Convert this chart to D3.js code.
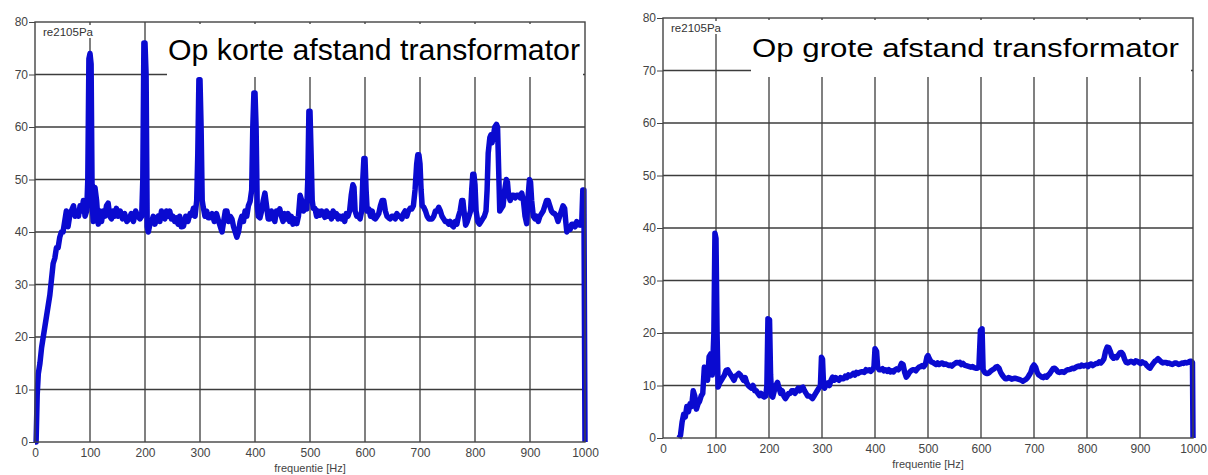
<!DOCTYPE html>
<html>
<head>
<meta charset="utf-8">
<script src="https://cdn.jsdelivr.net/npm/d3@7"></script>
<style>
  body { margin: 0; background: #fff; }
  svg { display: block; }
</style>
</head>
<body>
<div id="chart"></div>
<script>
// tick values shared by both panels
const xTicks = [0, 100, 200, 300, 400, 500, 600, 700, 800, 900, 1000];
const yTicks = [0, 10, 20, 30, 40, 50, 60, 70, 80];

// "Op korte afstand transformator" (dB re 2e-5 Pa)
const nearFreq = [0,2,4,6,9,12,15,18,21,24,27,30,33,36,39,42,45,48,51,54,57,60,63,66,70,73,76,79,82,85,88,91,94,96,98,100,102,104,106,109,112,115,118,121,124,127,130,133,136,139,142,145,148,151,155,159,163,167,171,175,179,183,187,191,194,196,198,200,202,204,206,209,212,215,218,221,224,227,230,233,236,239,242,245,248,251,254,257,260,263,266,270,274,278,282,285,288,291,294,296,298,300,302,304,306,309,312,315,318,322,326,330,334,337,340,343,346,349,352,355,358,361,364,367,370,373,376,379,382,385,388,391,394,396,398,400,402,404,406,409,412,415,418,421,424,427,430,433,436,439,442,445,448,451,454,457,460,463,466,469,472,476,479,482,485,488,491,494,496,498,500,502,504,506,509,512,515,518,521,524,527,530,533,536,539,542,545,548,551,554,557,560,563,566,569,572,575,578,580,582,585,588,591,594,596,598,600,602,604,607,610,613,616,619,622,625,628,631,634,637,640,643,646,649,652,655,658,661,664,667,670,673,676,679,682,685,688,691,694,696,698,700,702,704,707,710,713,716,719,722,725,728,731,734,737,740,743,746,749,752,755,758,761,764,767,770,773,776,778,780,783,786,789,792,794,796,798,800,802,805,808,811,814,817,820,822,824,827,829,831,833,836,839,841,843,845,848,851,854,857,859,861,864,867,870,873,876,879,882,885,888,891,894,896,899,901,903,906,909,912,915,918,921,924,927,930,933,936,939,942,945,948,951,954,957,960,963,965,967,970,973,976,979,982,985,988,991,994,996,998,1000];
const nearLevel = [0,0,9,13,15,18,20,22,24,26,28,31,34,35,37,37,39,40,40,42,44,41,43,44,45,43,44,43,45,44,46,43,44,50,73,74,72,45,42,48.5,46,41.5,44,42,44,43,45,45.5,43,42.5,44,43,44.5,43,44,42.5,43.5,42,42.5,43.5,42,44,43,42.5,43,50,76,76,70,41,40,41.5,42,43,41.5,42.5,43,42,44,43,42.5,44,43,44,42.5,43,42,42.7,41.5,43,41,41.1,43,42,43.5,43.2,44.5,43,46,55,69,69,60,46,44.7,43,44,42.7,42.7,43.5,42,43.5,42,41,40,42,44,44,42,43,42.5,41,40,39,40,42,43,42,44,43,45,45.8,48,60,66.5,66.5,60,45,43,42.7,44,46,47.4,45,42.5,42.5,44,43,42,44,43.5,44.4,43,42,43.5,42.5,43.5,42,43,41.5,42.5,41.6,43,47,46,44,44.4,44.4,50,63,63,55,46,44.5,44.5,43,44,43.2,44,43.6,42.8,44,43,43.5,42.5,44,43,43.5,42.5,43,42.5,43,42,43.5,43,44,47,49,48.5,44,43,43,42.5,44,50,54,54,48,44,44.4,43,44,42.7,42.5,43,43.5,45,46,46,44,43,42.7,42.5,43,43,42.5,43.5,43,43,42.5,43.5,44,43,44,44.5,44.4,45,48,53,54.7,54.7,53,48,45,44.7,44,43,42.5,42.5,42.5,43,44,44,44.7,44,43,42.5,42,42,41.5,42,41.3,41,42,41.5,43,44,46,46,44,41.3,42,43,44,48,51,51,49,44,42,41.5,42,42.5,43,44,48,55,58,58.5,57,58,60,60.5,60,52,44,44.5,45,48,50,49.5,47,46,47,47,46.5,47,47,46.5,47.4,46,43,41.6,46,50,49.5,46,43,42.5,43,42,43,43.5,44,45,46,46,45,44,43.6,43.5,43,42,43,44,45,44.5,42,40,41,40.5,41.5,41.5,41,42,41.5,41.3,41.5,48,48,0];

// "Op grote afstand transformator"
const farFreq = [30,33,36,39,42,45,48,51,54,57,60,63,66,69,72,75,78,81,84,87,90,93,96,98,100,102,104,107,110,113,116,119,122,125,128,131,134,137,140,143,146,149,152,155,158,161,164,167,170,173,176,179,182,185,188,191,194,196,198,201,203,205,207,210,213,216,219,222,225,228,231,234,237,240,243,246,249,252,255,258,261,264,267,270,273,276,279,282,285,288,291,294,297,299,301,303,305,308,311,314,317,320,323,326,329,332,335,338,341,344,347,350,353,356,359,362,365,368,371,374,377,380,383,386,389,392,395,398,400,403,405,408,411,414,417,420,423,426,429,432,435,438,441,444,447,450,453,456,459,462,465,468,471,474,477,480,483,486,489,492,495,498,500,503,506,509,512,515,518,521,524,527,530,533,536,539,542,545,548,551,554,557,560,563,566,569,572,575,578,581,584,587,590,593,596,599,602,604,607,610,613,616,619,622,625,628,631,634,637,640,643,646,649,652,655,658,661,664,667,670,673,676,679,682,685,688,691,694,697,700,703,706,709,712,715,718,721,724,727,730,733,736,739,742,745,748,751,754,757,760,763,766,769,772,775,778,781,784,787,790,793,796,799,802,805,808,811,814,817,820,823,826,829,832,835,838,841,844,847,850,853,856,859,862,865,868,871,874,877,880,883,886,889,892,895,898,901,904,907,910,913,916,919,922,925,928,931,934,937,940,943,946,949,952,955,958,961,964,967,970,973,976,979,982,985,988,991,994,997,999,1000];
const farLevel = [0,0.5,3,4.5,4,6,5,6.5,6,9,8,5.5,6.5,7,8,8.5,13.5,12,11,15.5,16,12,20,39,38,20,9.7,10.5,11,11.5,12,12.9,13,12.5,12,11.5,11,11.8,12,12.3,12,11.5,11,11.5,10.5,10,9.7,9.5,10,9,9,8.5,8.1,8.5,8,7.8,8,10,22.7,22.5,12,8,7.8,9,10,10.6,9.5,8.5,9,8,7.5,8,8.5,8.5,9,9,8.5,9,9.5,9,9.5,9.7,9,8.5,8,8,7.8,7.5,8,8.5,9,9.5,10,15.4,15,10,9.5,10.3,10.5,10,11,11.6,11,11.5,11.2,11,11.5,11.3,11.3,11.8,11.5,12,11.8,12,12.3,12,12.5,12.3,12.5,12.6,12.6,12.5,13,12.8,13,12.7,13,13.5,17,16.5,13.5,13,13,13.2,12.8,13,12.7,13,12.6,12.8,12.6,13,13.2,13,13.5,14.2,14,12.5,11.6,12,12.5,12.8,13,13,12.8,13.2,13.5,13.6,13.8,13.6,14,15.4,15.7,15,14.5,14.4,14.2,14,14.3,14,14.2,14.3,14,14.1,14,13.8,13.9,13.7,14,14.2,14.4,14.3,14.4,14,14.2,13.9,13.8,13.7,13.6,13.5,13.6,13.4,13.3,13.3,13.5,20.5,20.8,13,12.5,12.3,12.3,12.5,12.8,13,13.2,13.5,13.6,13.3,12.5,12,11.6,11.3,11.3,11.5,11.4,11.2,11.3,11.4,11.3,11.2,11.1,11,10.8,11,11.2,11.5,12,12.5,13.5,13.9,13.5,12.5,12,11.8,11.6,11.5,11.8,11.6,12,12.3,12.8,13.2,13.3,13,12.6,12.5,12.6,12.6,12.5,12.8,13,13,13.1,13.3,13.2,13.4,13.6,13.7,13.6,13.9,13.7,13.8,13.9,13.6,14,14.1,13.8,14,14.2,14.2,14.5,14.3,14.6,15.1,16.5,17.3,17.2,16.5,15.5,15.2,15.5,15.3,15.8,16.2,16.3,15.9,15,14.4,14.3,14.5,14.6,14.5,14.3,14.7,14.6,14.4,14.2,14.5,14.3,14.2,13.8,13.5,13.3,13.8,14.2,14.6,14.8,15.1,14.8,14.5,14.3,14.4,14.4,14.2,14.3,14.1,14,14.2,14.3,14.2,14,14.1,14.3,14.2,14.4,14.3,14.4,14.6,14.6,14.4,0];

const W = 1208, H = 475;
const svg = d3.select("#chart").append("svg").attr("width", W).attr("height", H);

const tickFont = "'Liberation Sans', Arial, sans-serif";
const gridColor = "#3c3c3c";
const lineColor = "#0a0ad0";

function drawPanel(cfg) {
  const g = svg.append("g");
  const x = d3.scaleLinear().domain([0, 1000]).range([cfg.left, cfg.right]);
  const y = d3.scaleLinear().domain([0, 80]).range([cfg.bottom, cfg.top]);

  // grid
  g.append("g").selectAll("line")
    .data(xTicks.slice(1, -1))
    .join("line")
    .attr("x1", d => x(d)).attr("x2", d => x(d))
    .attr("y1", y(80)).attr("y2", y(0))
    .attr("stroke", gridColor).attr("stroke-width", 1.3);
  g.append("g").selectAll("line")
    .data(yTicks.slice(1, -1))
    .join("line")
    .attr("x1", x(0)).attr("x2", x(1000))
    .attr("y1", d => y(d)).attr("y2", d => y(d))
    .attr("stroke", gridColor).attr("stroke-width", 1.3);

  // spectrum
  const pts = cfg.freq.map((f, i) => [f, cfg.level[i]]);
  const line = d3.line().x(d => x(d[0])).y(d => y(d[1]));
  g.append("path")
    .datum(pts)
    .attr("fill", "none")
    .attr("stroke", lineColor)
    .attr("stroke-width", 5.5)
    .attr("stroke-linejoin", "round")
    .attr("d", line);

  // title box covering grid
  g.append("rect")
    .attr("x", cfg.boxX).attr("y", y(80) + 2)
    .attr("width", x(1000) - cfg.boxX - 2).attr("height", cfg.boxBottom - y(80) - 2)
    .attr("fill", "#fff");
  g.append("text")
    .attr("x", cfg.boxX + 1).attr("y", cfg.titleY)
    .attr("font-family", "'Liberation Sans', Arial, sans-serif")
    .attr("font-size", cfg.titleSize)
    .attr("textLength", cfg.titleLen)
    .attr("lengthAdjust", "spacingAndGlyphs")
    .attr("fill", "#000")
    .text(cfg.title);

  // reference label
  g.append("rect")
    .attr("x", x(0) + 6).attr("y", y(80) + 3)
    .attr("width", 54).attr("height", 13).attr("fill", "#fff");
  g.append("text")
    .attr("x", x(0) + 8).attr("y", y(80) + 14)
    .attr("font-family", tickFont)
    .attr("font-size", 11)
    .attr("textLength", 50)
    .attr("lengthAdjust", "spacingAndGlyphs")
    .attr("fill", "#333")
    .text("re2105Pa");

  // frame
  g.append("rect")
    .attr("x", x(0)).attr("y", y(80))
    .attr("width", x(1000) - x(0)).attr("height", y(0) - y(80))
    .attr("fill", "none").attr("stroke", "#444").attr("stroke-width", 1.4);

  // axes
  const yAxis = d3.axisLeft(y).tickValues(yTicks).tickSize(6).tickPadding(1);
  g.append("g")
    .attr("transform", `translate(${x(0)},0)`)
    .call(yAxis)
    .call(a => a.select(".domain").remove())
    .call(a => a.selectAll("line").attr("stroke", "#444"))
    .call(a => a.selectAll("text")
      .attr("font-family", tickFont).attr("font-size", 12).attr("fill", "#444"));

  const xAxis = d3.axisBottom(x).tickValues(xTicks).tickFormat(d3.format("d")).tickSize(0).tickPadding(6);
  g.append("g")
    .attr("transform", `translate(0,${y(0)})`)
    .call(xAxis)
    .call(a => a.select(".domain").remove())
    .call(a => a.selectAll("text")
      .attr("font-family", tickFont).attr("font-size", 12).attr("fill", "#444"));

  g.append("text")
    .attr("x", (x(0) + x(1000)) / 2).attr("y", y(0) + 30)
    .attr("text-anchor", "middle")
    .attr("font-family", tickFont)
    .attr("font-size", 11)
    .attr("fill", "#444")
    .text("frequentie [Hz]");
}

drawPanel({
  left: 35, right: 585, top: 22, bottom: 442,
  boxX: 167, boxBottom: 77, titleY: 60, titleSize: 30, titleLen: 412,
  title: "Op korte afstand transformator",
  freq: nearFreq, level: nearLevel
});

drawPanel({
  left: 663, right: 1193, top: 18, bottom: 438,
  boxX: 751, boxBottom: 77, titleY: 57, titleSize: 26, titleLen: 427,
  title: "Op grote afstand transformator",
  freq: farFreq, level: farLevel
});
</script>
</body>
</html>
